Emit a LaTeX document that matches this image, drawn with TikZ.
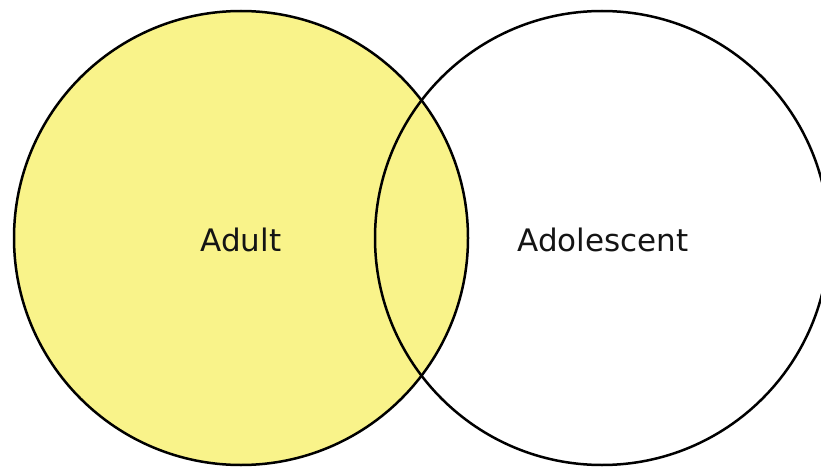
\documentclass[tikz,border=0pt]{standalone}
\usepackage{fontspec}
\setmainfont{DejaVu Sans}
\definecolor{venyellow}{RGB}{249,243,138}
\begin{document}
\begin{tikzpicture}[x=1pt,y=-1pt,
  ring/.style={draw=black,line width=2.5pt},
  lab/.style={font=\fontsize{31}{35}\selectfont,text=black!92}]
\useasboundingbox (0,0) rectangle (821,468);
\begin{scope}
\clip (0,0) rectangle (821,468);
\draw[ring,fill=venyellow] (241,238) circle[radius=227];
\draw[ring] (602,238) circle[radius=227];
\end{scope}
\node[lab] (adult) at (241,240) {Adult};
\node[lab] (adol) at (603,240) {Adolescent};
\end{tikzpicture}
\end{document}
